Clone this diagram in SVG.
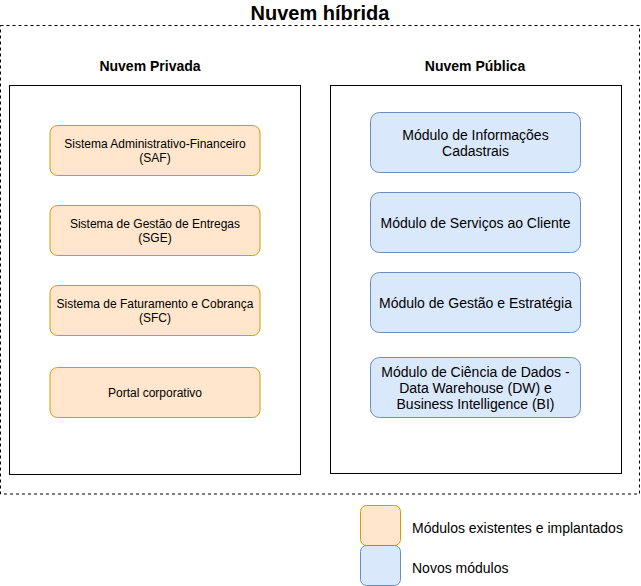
<svg xmlns="http://www.w3.org/2000/svg" width="641" height="586" viewBox="0 0 641 586">
<style>
text{font-family:"Liberation Sans",Arial,sans-serif;fill:#000;text-anchor:middle}
.title{font-size:20px;font-weight:bold}
.hdr{font-size:14px;font-weight:bold}
.s12{font-size:12px}
.s14{font-size:14px}
.orange{fill:#ffe6cc;stroke:#d79b00;stroke-width:1}
.blue{fill:#dae8fc;stroke:#6c8ebf;stroke-width:1}
.frame{fill:#fff;stroke:#000;stroke-width:1}
.lg{text-anchor:start}
</style>
<rect width="641" height="586" fill="#fff"/>
<g id="hybrid">
<rect x="0.5" y="25.5" width="639" height="468.5" fill="none" stroke="#000" stroke-dasharray="3 3"/>
<text class="title" x="320" y="20">Nuvem híbrida</text>
</g>
<g id="private">
<text class="hdr" x="150" y="71">Nuvem Privada</text>
<rect class="frame" x="9.5" y="85.5" width="291" height="389"/>
</g>
<g id="public">
<text class="hdr" x="475" y="71">Nuvem Pública</text>
<rect class="frame" x="330.5" y="85.5" width="291" height="388"/>
</g>
<g id="saf"><rect class="orange" x="50" y="125.5" width="210" height="50" rx="7.5"/><text class="s12" x="155" y="148">Sistema Administrativo-Financeiro</text><text class="s12" x="155" y="162">(SAF)</text></g>
<g id="sge"><rect class="orange" x="50" y="205.5" width="210" height="50" rx="7.5"/><text class="s12" x="155" y="228">Sistema de Gestão de Entregas</text><text class="s12" x="155" y="242">(SGE)</text></g>
<g id="sfc"><rect class="orange" x="50" y="285.5" width="210" height="50" rx="7.5"/><text class="s12" x="155" y="308">Sistema de Faturamento e Cobrança</text><text class="s12" x="155" y="322">(SFC)</text></g>
<g id="portal"><rect class="orange" x="50" y="367.5" width="210" height="50" rx="7.5"/><text class="s12" x="155" y="397">Portal corporativo</text></g>
<g id="mic"><rect class="blue" x="370.5" y="112.5" width="210" height="60" rx="9"/><text class="s14" x="475.5" y="140">Módulo de Informações</text><text class="s14" x="475.5" y="156">Cadastrais</text></g>
<g id="msc"><rect class="blue" x="370.5" y="192.5" width="210" height="60" rx="9"/><text class="s14" x="475.5" y="228">Módulo de Serviços ao Cliente</text></g>
<g id="mge"><rect class="blue" x="370.5" y="272.5" width="210" height="60" rx="9"/><text class="s14" x="475.5" y="308">Módulo de Gestão e Estratégia</text></g>
<g id="mcd"><rect class="blue" x="370.5" y="357.5" width="210" height="60" rx="9"/><text class="s14" x="475.5" y="377">Módulo de Ciência de Dados -</text><text class="s14" x="475.5" y="393">Data Warehouse (DW) e</text><text class="s14" x="475.5" y="409">Business Intelligence (BI)</text></g>
<g id="legend-existing"><rect class="orange" x="360.5" y="505.5" width="40" height="40" rx="6"/><text class="s14 lg" x="412" y="533">Módulos existentes e implantados</text></g>
<g id="legend-new"><rect class="blue" x="360.5" y="545.5" width="40" height="40" rx="6"/><text class="s14 lg" x="412" y="573">Novos módulos</text></g>
<g id="connectors"></g>
</svg>
